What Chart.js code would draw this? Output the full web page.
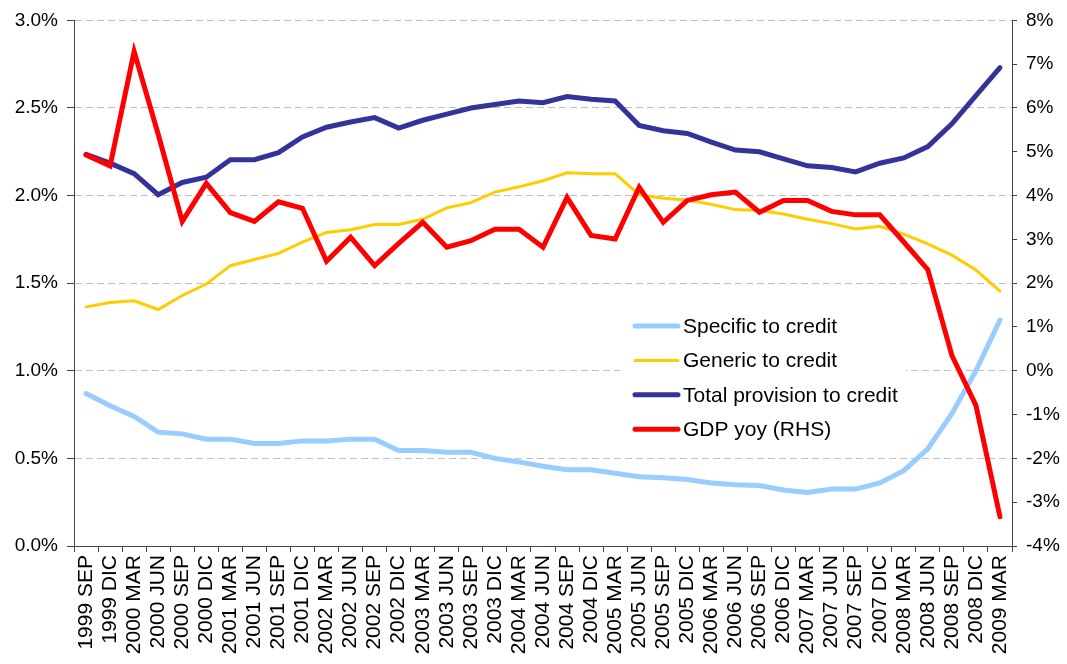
<!DOCTYPE html>
<html>
<head>
<meta charset="utf-8">
<script src="https://cdn.jsdelivr.net/npm/chart.js@4.4.1/dist/chart.umd.min.js"></script>
<style>
  html, body { margin: 0; padding: 0; background: #fff; }
</style>
</head>
<body>
<canvas id="chart" width="1067" height="664"></canvas>
<script>
// quarters on the x axis
const quarters = [
  '1999 SEP', '1999 DIC', '2000 MAR', '2000 JUN', '2000 SEP', '2000 DIC',
  '2001 MAR', '2001 JUN', '2001 SEP', '2001 DIC', '2002 MAR', '2002 JUN',
  '2002 SEP', '2002 DIC', '2003 MAR', '2003 JUN', '2003 SEP', '2003 DIC',
  '2004 MAR', '2004 JUN', '2004 SEP', '2004 DIC', '2005 MAR', '2005 JUN',
  '2005 SEP', '2005 DIC', '2006 MAR', '2006 JUN', '2006 SEP', '2006 DIC',
  '2007 MAR', '2007 JUN', '2007 SEP', '2007 DIC', '2008 MAR', '2008 JUN',
  '2008 SEP', '2008 DIC', '2009 MAR'
];

// left axis, % of credit
const specificToCredit = [
  0.87, 0.80, 0.74, 0.65, 0.64, 0.61, 0.61, 0.585, 0.585, 0.60,
  0.60, 0.61, 0.61, 0.545, 0.545, 0.535, 0.535, 0.50, 0.48, 0.455,
  0.435, 0.435, 0.415, 0.395, 0.39, 0.38, 0.36, 0.35, 0.345, 0.32,
  0.305, 0.325, 0.325, 0.36, 0.43, 0.555, 0.755, 1.0, 1.29
];
const genericToCredit = [
  1.365, 1.39, 1.40, 1.35, 1.43, 1.495, 1.60, 1.635, 1.67, 1.735,
  1.79, 1.805, 1.835, 1.835, 1.865, 1.93, 1.96, 2.02, 2.05, 2.085,
  2.13, 2.125, 2.125, 2.005, 1.985, 1.975, 1.95, 1.92, 1.915, 1.895,
  1.865, 1.84, 1.81, 1.825, 1.78, 1.725, 1.66, 1.575, 1.455
];
const totalProvision = [
  2.235, 2.185, 2.125, 2.005, 2.075, 2.105, 2.205, 2.205, 2.245, 2.335,
  2.39, 2.42, 2.445, 2.385, 2.43, 2.465, 2.50, 2.52, 2.54, 2.53,
  2.565, 2.55, 2.54, 2.40, 2.37, 2.355, 2.305, 2.26, 2.25, 2.21,
  2.17, 2.16, 2.135, 2.185, 2.215, 2.28, 2.41, 2.57, 2.73
];
// right axis, GDP yoy %
const gdpYoy = [
  4.93, 4.68, 7.29, 5.4, 3.41, 4.28, 3.61, 3.41, 3.86, 3.71,
  2.50, 3.05, 2.40, 2.91, 3.39, 2.82, 2.97, 3.23, 3.23, 2.82,
  3.96, 3.09, 3.01, 4.19, 3.39, 3.89, 4.02, 4.08, 3.62, 3.89,
  3.89, 3.64, 3.56, 3.56, 2.94, 2.31, 0.35, -0.79, -3.33
];

const FONT = '"Liberation Sans", Arial, sans-serif';
const AXIS = '#444';

// legend box sitting inside the plot, white background hides the grid
const boxLegend = {
  id: 'boxLegend',
  beforeDatasetsDraw(chart) {
    const ctx = chart.ctx;
    ctx.save();
    ctx.fillStyle = '#fff';
    ctx.fillRect(620, 306, 286, 140);
    ctx.font = '21px ' + FONT;
    ctx.textBaseline = 'middle';
    chart.data.datasets.forEach((ds, i) => {
      const y = 326 + i * 34.4;
      ctx.strokeStyle = ds.borderColor;
      ctx.lineWidth = ds.borderWidth;
      ctx.lineCap = 'round';
      ctx.beginPath();
      ctx.moveTo(635, y);
      ctx.lineTo(678, y);
      ctx.stroke();
      ctx.fillStyle = '#000';
      ctx.fillText(ds.label, 683, y + 1);
    });
    ctx.restore();
  }
};

const ctx = document.getElementById('chart').getContext('2d');
new Chart(ctx, {
  type: 'line',
  data: {
    labels: quarters,
    datasets: [
      { label: 'Specific to credit', data: specificToCredit, yAxisID: 'y',
        borderColor: '#99CCFF', borderWidth: 5, order: 4 },
      { label: 'Generic to credit', data: genericToCredit, yAxisID: 'y',
        borderColor: '#FFCC00', borderWidth: 3, order: 3 },
      { label: 'Total provision to credit', data: totalProvision, yAxisID: 'y',
        borderColor: '#333399', borderWidth: 5, order: 2 },
      { label: 'GDP yoy (RHS)', data: gdpYoy, yAxisID: 'y1',
        borderColor: '#FF0000', borderWidth: 5, order: 1 }
    ]
  },
  options: {
    responsive: false,
    animation: false,
    layout: { padding: { top: 20, left: 0, right: 0, bottom: 0 } },
    elements: {
      point: { radius: 0 },
      line: { tension: 0, borderCapStyle: 'round', fill: false }
    },
    plugins: {
      legend: { display: false },
      tooltip: { enabled: false }
    },
    scales: {
      x: {
        offset: true,
        grid: { offset: true, drawOnChartArea: false, tickLength: 6, color: AXIS },
        border: { color: AXIS },
        ticks: {
          autoSkip: false, minRotation: 90, maxRotation: 90, padding: 3,
          color: '#000', font: { family: FONT, size: 21 }
        },
        afterFit(s) { s.height = 118; }
      },
      y: {
        position: 'left',
        min: 0, max: 3,
        ticks: {
          stepSize: 0.5, padding: 9, color: '#000',
          font: { family: FONT, size: 19 },
          callback: v => v.toFixed(1) + '%'
        },
        grid: { color: '#BFBFBF', tickColor: AXIS, tickLength: 7, tickBorderDash: [] },
        border: { color: AXIS, dash: [7, 4] },
        afterFit(s) { s.width = 74; }
      },
      y1: {
        position: 'right',
        min: -4, max: 8,
        ticks: {
          stepSize: 1, padding: 9, color: '#000',
          font: { family: FONT, size: 19 },
          callback: v => v + '%'
        },
        grid: { drawOnChartArea: false, color: AXIS, tickLength: 5 },
        border: { color: AXIS },
        afterFit(s) { s.width = 55; }
      }
    }
  },
  plugins: [boxLegend]
});
</script>
</body>
</html>
